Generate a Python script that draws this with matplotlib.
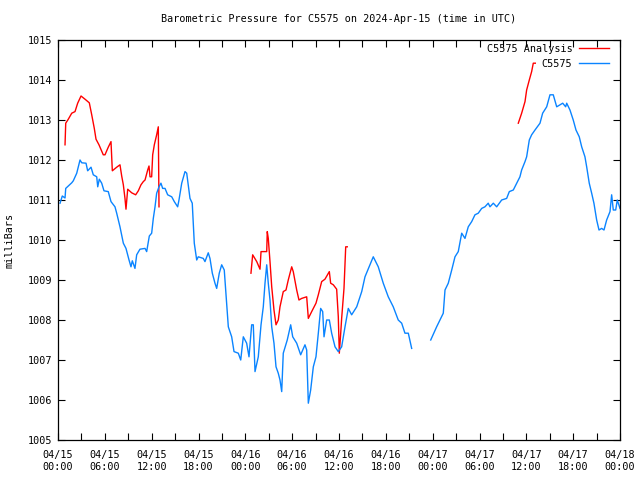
import numpy as np
import matplotlib
matplotlib.use("Agg")
import matplotlib.pyplot as plt

nan = np.nan
# Hours since 2024-04-15 00:00 UTC and pressure (mb)
obs_hours = [0.26, 0.55, 0.90, 0.99, 1.32, 1.76, 1.96, 2.40, 2.82, 3.04, 3.59, 3.80, 4.23, 4.52, 4.96,
             5.09, 5.29, 5.60, 5.89, 6.44, 6.79, 7.30, 7.52, 7.94, 8.37, 8.71, 9.10, 9.35, 9.52, 9.86,
             10.08, 10.50, 11.15, 11.36, 11.70, 12.00, 12.21, 12.43, 12.64, 12.94, 13.19, 13.41, 13.71,
             14.05, 14.57, 14.90, 15.33, 15.50, 15.85, 16.27, 16.49, 16.91, 17.20, 17.46, 17.77, 17.97,
             18.61, 18.83, 19.25, 19.47, 19.77, 20.11, 20.33, 20.66, 20.97, 21.30, 21.82, 22.25, 22.55,
             23.10, 23.41, 23.74, 24.17, 24.47, 24.81, 25.02, 25.24, 25.66, 26.01, 26.30, 26.52, 26.74,
             26.94, 27.16, 27.38, 27.67, 27.93, 28.22, 28.44, 28.66, 28.86, 29.37, 29.81, 30.07, 30.58,
             31.09, 31.64, 31.86, 32.07, 32.37, 32.71, 33.05, 33.35, 33.65, 33.91, 34.08, 34.42, 34.76,
             35.06, 35.49, 35.91, 36.34, 36.77, 37.19, 37.62, 38.27, 38.91, 39.33, 39.97, 40.39, 41.03,
             41.67, 42.31, 42.95, 43.59, 44.03, 44.45, 44.88, 45.31, 46.5,
             47.75, 48.51, 48.94, 49.36, 49.58, 50.00, 50.44, 50.86, 51.28, 51.72, 52.14, 52.56, 53.00,
             53.42, 53.84, 54.28, 54.70, 55.12, 55.34, 55.77, 56.20, 56.84, 57.48, 57.82, 58.33, 58.76,
             59.18, 59.40, 59.83, 60.04, 60.38, 60.68, 61.11, 61.75, 62.09, 62.61, 63.03, 63.45, 63.89,
             64.31, 64.66, 65.04, 65.17, 65.59, 66.01, 66.36, 66.78, 67.09, 67.51, 67.73, 68.06, 68.37,
             68.66, 69.01, 69.31, 69.65, 69.95, 70.29, 70.72, 70.93, 71.14, 71.45, 71.65, 72.0]
obs_mb = [1010.92, 1011.10, 1011.05, 1011.29, 1011.35, 1011.43, 1011.48, 1011.67, 1012.00, 1011.93,
          1011.92, 1011.73, 1011.82, 1011.63, 1011.58, 1011.33, 1011.52, 1011.42, 1011.23, 1011.21,
          1010.96, 1010.83, 1010.67, 1010.33, 1009.92, 1009.79, 1009.50, 1009.33, 1009.48, 1009.29,
          1009.63, 1009.77, 1009.79, 1009.71, 1010.10, 1010.17, 1010.54, 1010.83, 1011.17, 1011.33,
          1011.42, 1011.29, 1011.29, 1011.13, 1011.08, 1010.96, 1010.83, 1011.00, 1011.42, 1011.71,
          1011.67, 1011.04, 1010.92, 1009.92, 1009.50, 1009.58, 1009.54, 1009.46, 1009.68, 1009.54,
          1009.17, 1008.92, 1008.79, 1009.17, 1009.38, 1009.25, 1007.83, 1007.58, 1007.21, 1007.17,
          1007.00, 1007.58, 1007.42, 1007.08, 1007.88, 1007.88, 1006.71, 1007.08, 1007.88, 1008.33,
          1008.92, 1009.38, 1008.92, 1008.50, 1007.83, 1007.42, 1006.83, 1006.67, 1006.50, 1006.21,
          1007.17, 1007.50, 1007.88, 1007.58, 1007.42, 1007.13, 1007.38, 1007.25, 1005.92, 1006.25,
          1006.83, 1007.08, 1007.67, 1008.29, 1008.21, 1007.58, 1008.00, 1008.00, 1007.67, 1007.33,
          1007.21, 1007.33, 1007.83, 1008.29, 1008.13, 1008.33, 1008.71, 1009.08, 1009.38, 1009.58,
          1009.33, 1008.92, 1008.58, 1008.33, 1008.00, 1007.92, 1007.67, 1007.67, 1007.29, nan,
          1007.50, 1007.83, 1008.00, 1008.17, 1008.75, 1008.92, 1009.25, 1009.58, 1009.71, 1010.17,
          1010.04, 1010.33, 1010.46, 1010.63, 1010.67, 1010.79, 1010.83, 1010.92, 1010.83, 1010.92,
          1010.83, 1011.00, 1011.04, 1011.21, 1011.25, 1011.42, 1011.58, 1011.75, 1011.96, 1012.08,
          1012.50, 1012.63, 1012.75, 1012.92, 1013.17, 1013.33, 1013.63, 1013.63, 1013.33, 1013.38,
          1013.42, 1013.33, 1013.42, 1013.25, 1013.00, 1012.75, 1012.58, 1012.33, 1012.08, 1011.83,
          1011.42, 1011.17, 1010.92, 1010.50, 1010.25, 1010.29, 1010.25, 1010.50, 1010.71, 1011.13,
          1010.75, 1010.75, 1011.00, 1010.79]

ana_hours = [0.90, 0.99, 1.32, 1.76, 2.18, 2.52, 2.95, 3.46, 4.01, 4.32, 4.65, 4.87, 5.25, 5.80, 6.02,
             6.44, 6.79, 6.96, 7.52, 7.94, 8.16, 8.37, 8.58, 8.71, 8.93, 9.44, 9.95, 10.29, 10.63, 10.93,
             11.15, 11.49, 11.66, 11.79, 12.00, 12.13, 12.34, 12.64, 12.85, 12.94, 18.0,
             24.72, 24.94, 25.46, 25.88, 26.01, 26.74, 26.81, 26.94, 27.16, 27.38, 27.67, 27.93, 28.22,
             28.44, 28.86, 29.21, 29.50, 29.94, 30.14, 30.58, 30.87, 31.22, 31.86, 32.07, 32.50, 33.05,
             33.35, 33.78, 34.20, 34.76, 34.93, 35.27, 35.70, 35.91, 36.04, 36.22, 36.34, 36.64, 36.86,
             37.06, 48.0,
             58.97, 59.40, 59.83, 60.04, 60.38, 60.68, 60.89, 61.15]
ana_mb = [1012.38, 1012.92, 1013.02, 1013.17, 1013.21, 1013.42, 1013.60, 1013.52, 1013.43, 1013.13,
          1012.79, 1012.52, 1012.38, 1012.13, 1012.13, 1012.32, 1012.46, 1011.73, 1011.82, 1011.88,
          1011.60, 1011.38, 1011.04, 1010.77, 1011.27, 1011.18, 1011.13, 1011.23, 1011.38, 1011.46,
          1011.50, 1011.75, 1011.85, 1011.58, 1011.58, 1012.13, 1012.38, 1012.63, 1012.83, 1010.83, nan,
          1009.17, 1009.63, 1009.46, 1009.27, 1009.71, 1009.71, 1010.21, 1010.04, 1009.46, 1008.83,
          1008.25, 1007.88, 1008.00, 1008.33, 1008.71, 1008.75, 1009.00, 1009.33, 1009.21, 1008.75,
          1008.50, 1008.54, 1008.58, 1008.04, 1008.21, 1008.42, 1008.63, 1008.96, 1009.02, 1009.21,
          1008.92, 1008.88, 1008.77, 1008.08, 1007.17, 1007.67, 1008.04, 1008.79, 1009.83, 1009.83, nan,
          1012.92, 1013.17, 1013.46, 1013.75, 1014.00, 1014.21, 1014.42, 1014.42]

tick_hours = [0, 6, 12, 18, 24, 30, 36, 42, 48, 54, 60, 66, 72]
tick_labels = ["04/15\n00:00", "04/15\n06:00", "04/15\n12:00", "04/15\n18:00",
               "04/16\n00:00", "04/16\n06:00", "04/16\n12:00", "04/16\n18:00",
               "04/17\n00:00", "04/17\n06:00", "04/17\n12:00", "04/17\n18:00",
               "04/18\n00:00"]
y_ticks = [1005, 1006, 1007, 1008, 1009, 1010, 1011, 1012, 1013, 1014, 1015]

FONT = "DejaVu Sans Mono"
FS = 7.3
plt.rcParams['font.family'] = [FONT]

fig = plt.figure(figsize=(6.4, 4.8), dpi=100)
ax = fig.add_axes([58/640, 40/480, 562/640, 400/480])

ax.plot(ana_hours, ana_mb, color="#ff0000", lw=1.0, label="C5575 Analysis")
ax.plot(obs_hours, obs_mb, color="#0a84ff", lw=1.0, label="C5575")

ax.set_xlim(0, 72)
ax.set_ylim(1005, 1015)
ax.set_xticks(tick_hours)
ax.set_xticklabels(tick_labels, fontsize=FS, linespacing=1.25)
ax.set_xticks(np.arange(3, 72, 6), minor=True)
ax.set_yticks(y_ticks)
ax.set_yticklabels([str(v) for v in y_ticks], fontsize=FS)
ax.tick_params(which='both', direction='in', top=True, right=True, length=5, width=0.8, pad=4)
ax.tick_params(axis='x', which='major', pad=7)
for s in ax.spines.values():
    s.set_linewidth(0.9)

ax.set_ylabel("milliBars", fontsize=FS)
ax.yaxis.set_label_coords(-0.077, 0.5)
fig.text(339/640, 1 - 19/480, "Barometric Pressure for C5575 on 2024-Apr-15 (time in UTC)",
         ha='center', va='center', fontsize=FS)

leg = ax.legend(loc='upper right', bbox_to_anchor=(1 - 11/562, 1 - 4/400),
                frameon=False, markerfirst=False, fontsize=FS,
                handlelength=3.0, handletextpad=0.6, labelspacing=0.45,
                borderaxespad=0.0, borderpad=0.0)

fig.savefig("out.png", dpi=100)
